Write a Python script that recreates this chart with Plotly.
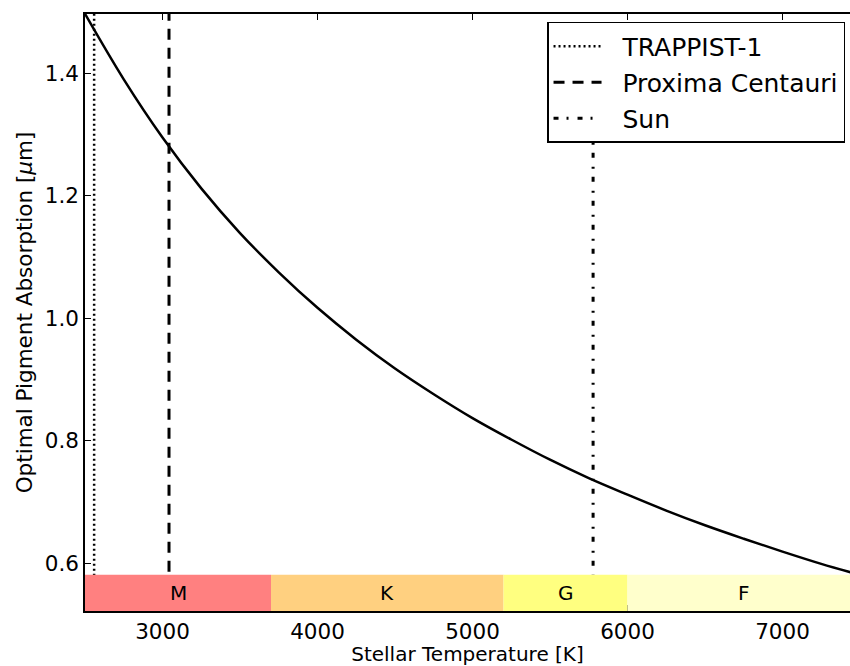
import plotly.graph_objects as go

# Curve: optimal pigment absorption vs stellar temperature
temps = [2500, 2750, 3000, 3250, 3500, 3750, 4000, 4250, 4500, 4750, 5000,
         5250, 5500, 5750, 6000, 6250, 6500, 6750, 7000, 7250, 7500]
absorption = [1.497, 1.390, 1.295, 1.212, 1.139, 1.075, 1.017, 0.965, 0.918,
              0.876, 0.837, 0.802, 0.769, 0.739, 0.712, 0.686, 0.662, 0.640,
              0.619, 0.599, 0.581]

# Stars
star_names = ["TRAPPIST-1", "Proxima Centauri", "Sun"]
star_temps = [2559, 3042, 5778]
star_dashes = ["2px,3px", "11px,8px", "5px,8px,2px,9px"]
star_widths = [2.5, 3, 3]

# Spectral classes
class_labels = ["M", "K", "G", "F"]
class_edges = [2500, 3700, 5200, 6000, 7500]
class_colors = ["#FF8080", "#FFD080", "#FFFF80", "#FFFFCC"]

x_range = [2500, 7435.5]
y_range = [0.522, 1.4967]
band_top = 0.581

fig = go.Figure()

for i, (name, t) in enumerate(zip(star_names, star_temps)):
    fig.add_trace(go.Scatter(
        x=[t, t], y=[0.4, 1.7], mode="lines", name="\u00a0\u00a0" + name,
        legendgroup=f"g{i}",
        line=dict(color="black", width=star_widths[i], dash=star_dashes[i]),
    ))

fig.add_trace(go.Scatter(
    x=temps, y=absorption, mode="lines", showlegend=False,
    line=dict(color="black", width=2.5, shape="spline"),
))

for i, lab in enumerate(class_labels):
    x0, x1 = class_edges[i], class_edges[i + 1]
    fig.add_shape(type="rect", xref="x", yref="y", x0=x0, x1=x1,
                  y0=y_range[0], y1=band_top, fillcolor=class_colors[i],
                  line=dict(width=0), layer="above")
    fig.add_annotation(x=(x0 + x1) / 2, y=(y_range[0] + band_top) / 2,
                       text=lab, showarrow=False, xref="x", yref="y",
                       font=dict(size=20, color="black"))

fig.update_layout(
    width=850, height=666,
    margin=dict(l=85, r=0, t=14, b=55),
    paper_bgcolor="white", plot_bgcolor="white",
    font=dict(family="DejaVu Sans", color="black", size=20),
    showlegend=True,
    legend=dict(x=0.9935, y=0.9866, xanchor="right", yanchor="top",
                bordercolor="black", borderwidth=1.5, bgcolor="white",
                font=dict(size=25), tracegroupgap=0.5, traceorder="grouped",
                itemwidth=48),
    xaxis=dict(range=x_range, showline=True, linecolor="black", linewidth=1.5,
               mirror="ticks", ticks="inside", ticklen=6, tickcolor="black",
               dtick=1000, tick0=3000, showgrid=False, zeroline=False,
               tickfont=dict(size=21.5),
               title=dict(text="Stellar Temperature [K]", font=dict(size=20),
                          standoff=9)),
    yaxis=dict(range=y_range, showline=True, linecolor="black", linewidth=1.5,
               mirror=False, ticks="inside", ticklen=6, tickcolor="black",
               tickvals=[0.6, 0.8, 1.0, 1.2, 1.4], tickformat=".1f",
               showgrid=False, zeroline=False, tickfont=dict(size=21.5),
               title=dict(text="Optimal Pigment Absorption [<i>μ</i>m]",
                          font=dict(size=21.5), standoff=6)),
)

fig.write_html("out.html")
